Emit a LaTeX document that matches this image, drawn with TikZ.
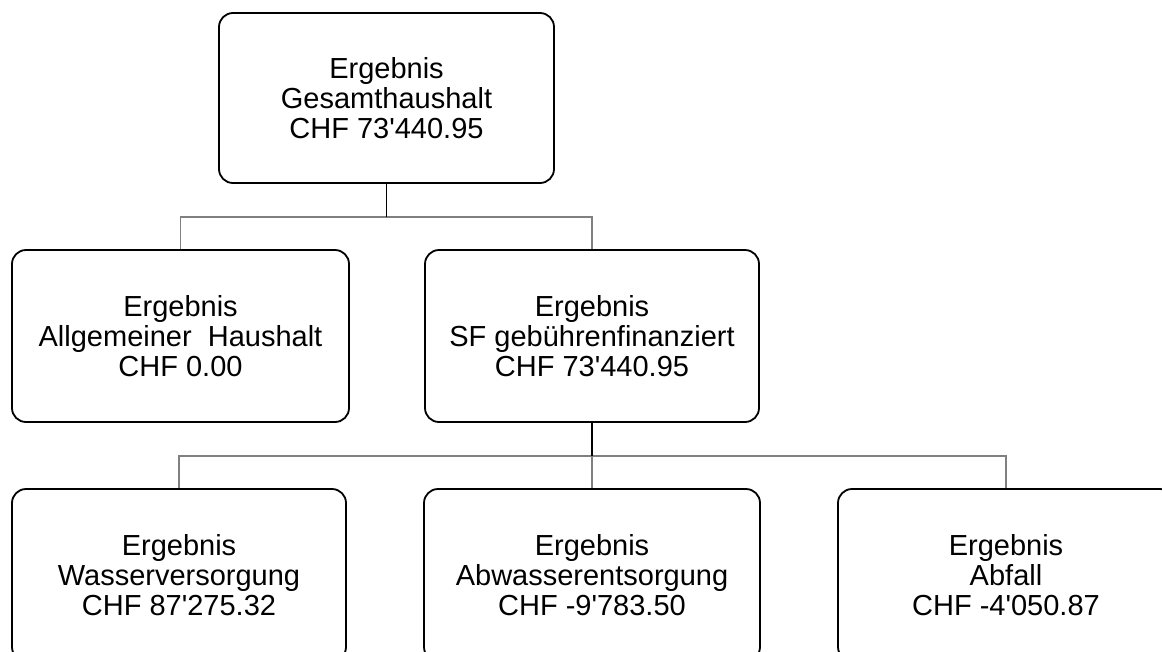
\documentclass[tikz,border=0pt]{standalone}
\usepackage{fontspec}
\setmainfont{Liberation Sans}
\definecolor{conngray}{RGB}{128,128,128}
\newcommand{\ap}{\textquotesingle}
\begin{document}
\begin{tikzpicture}[x=1pt,y=-1pt,
  box/.style={draw=black, line width=1.8pt, rounded corners=14pt, fill=white,
    minimum width=336pt, minimum height=172pt, align=center, inner sep=0pt,
    font=\fontsize{29}{30}\selectfont},
  parentline/.style={draw=black, line width=1.4pt},
  childline/.style={draw=conngray, line width=1.3pt}]
\useasboundingbox (0,0) rectangle (1162,651);
\fill[white] (0,0) rectangle (1162,651);
\node[box, minimum width=335pt, minimum height=170pt] (top) at (386.5,98) {Ergebnis\\Gesamthaushalt\\CHF 73\ap440.95};
\node[box, minimum width=337pt] (alg) at (180.5,336) {Ergebnis\\Allgemeiner\ \ Haushalt\\CHF 0.00};
\node[box, minimum width=334pt] (sf) at (592,336) {Ergebnis\\SF gebührenfinanziert\\CHF 73\ap440.95};
\node[box, minimum width=334pt] (wasser) at (179,575) {Ergebnis\\Wasserversorgung\\CHF 87\ap275.32};
\node[box] (abw) at (592,575) {Ergebnis\\Abwasserentsorgung\\CHF -9\ap783.50};
\node[box] (abfall) at (1006,575) {Ergebnis\\Abfall\\CHF -4\ap050.87};
\coordinate (bus1) at (386.5,217);
\coordinate (bus2) at (592,456);
\draw[childline] (alg.north) |- (bus1) -| (sf.north);
\draw[parentline] (top.south) -- (bus1);
\draw[childline] (wasser.north) |- (bus2) -| (abfall.north);
\draw[childline] (bus2) -- (abw.north);
\draw[parentline] (sf.south) -- (bus2);
\end{tikzpicture}
\end{document}
